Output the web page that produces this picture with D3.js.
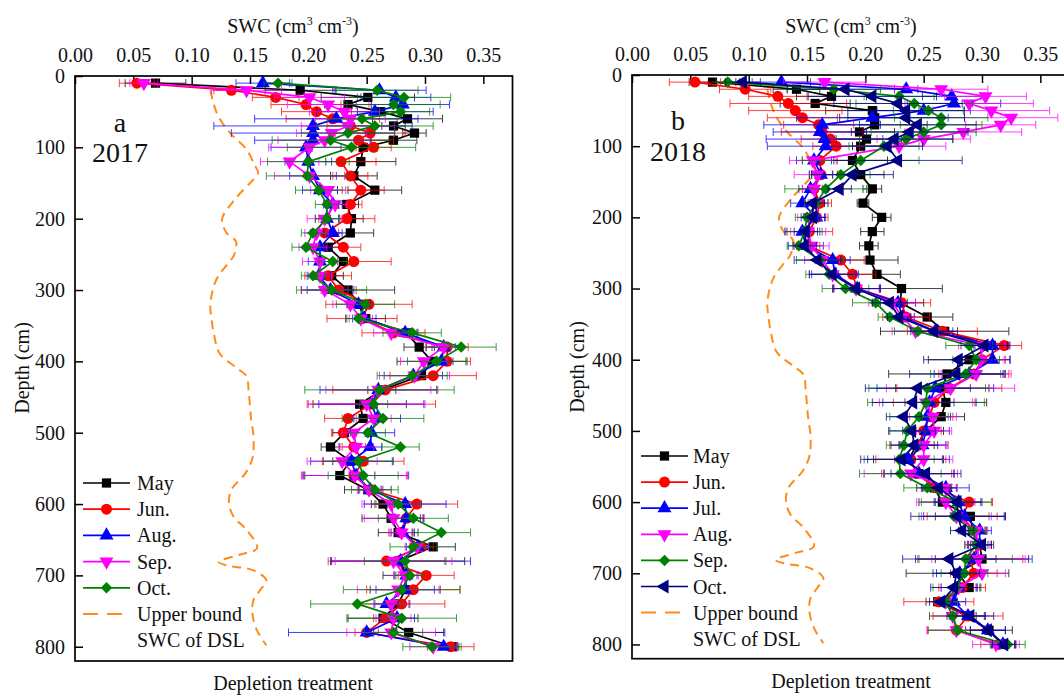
<!DOCTYPE html>
<html>
<head>
<meta charset="utf-8">
<script src="https://cdn.jsdelivr.net/npm/d3@7"></script>
<style>
  body { margin: 0; background: #fff; }
  svg { display: block; font-family: "Liberation Serif", "Times New Roman", "DejaVu Serif", serif; }
</style>
</head>
<body>
<script>
// Profondeurs (cm) : 10..100 par 10, puis 120..800 par 20
const depths = [10, 20, 30, 40, 50, 60, 70, 80, 90, 100,
  120, 140, 160, 180, 200, 220, 240,
  260, 280, 300, 320, 340, 360, 380,
  400, 420, 440, 460, 480, 500, 520,
  540, 560, 580, 600, 620, 640, 660,
  680, 700, 720, 740, 760, 780, 800];

const xTicks = [0, 0.05, 0.10, 0.15, 0.20, 0.25, 0.30, 0.35];
const yTicks = [0, 100, 200, 300, 400, 500, 600, 700, 800];

// ---- 2017 ----
const may17 = [.069, .193, .251, .234, .262, .285, .273, .291, .273, .247,
  .245, .239, .257, .233, .237, .236, .217,
  .230, .220, .234, .244, .249, .284, .295,
  .306, .297, .263, .244, .247, .231, .219,
  .236, .227, .251, .264, .271, .277, .307,
  .277, .284, .283, .277, .264, .286, .324];
const may17Err = [.026, .03, .04, .02, .02, .03, .01, .01, .02, .01,
  .03, .02, .023, .01, .01, .02, .01,
  .01, .01, .04, .01, .017, .01, .013,
  .03, .01, .012, .04, .01, .01, .008,
  .015, .03, .02, .01, .025, .017, .019,
  .057, .02, .03, .01, .03, .03, .005];
const jun17 = [.053, .134, .172, .198, .207, .221, .236, .253, .243, .256,
  .228, .236, .245, .236, .233, .214, .230,
  .239, .217, .226, .252, .246, .273, .319,
  .319, .307, .266, .254, .234, .230, .239,
  .247, .239, .254, .293, .284, .279, .297,
  .267, .301, .290, .280, .266, .250, .322];
const jun17Err = [.015, .015, .02, .03, .03, .04, .02, .03, .03, .015,
  .03, .015, .02, .01, .024, .012, .015,
  .032, .02, .015, .037, .03, .027, .018,
  .02, .037, .045, .055, .02, .01, .01,
  .035, .045, .01, .035, .015, .01, .01,
  .05, .024, .04, .037, .01, .01, .02];
const aug17 = [.161, .261, .275, .281, .257, .224, .204, .204, .204, .198,
  .200, .204, .210, .221, .216, .221, .210,
  .210, .209, .219, .243, .248, .283, .316,
  .314, .290, .260, .254, .259, .254, .253,
  .237, .241, .253, .283, .284, .281, .294,
  .279, .284, .283, .267, .276, .250, .316];
const aug17Err = [.023, .04, .03, .04, .05, .07, .085, .07, .05, .03,
  .02, .02, .015, .008, .01, .008, .01,
  .01, .01, .02, .01, .01, .01, .01,
  .01, .025, .05, .045, .02, .02, .01,
  .035, .045, .01, .035, .015, .01, .01,
  .06, .01, .025, .01, .015, .067, .01];
const sep17 = [.059, .147, .201, .217, .231, .236, .234, .220, .214, .201,
  .184, .201, .217, .223, .214, .207, .204,
  .210, .210, .214, .236, .245, .271, .316,
  .299, .291, .260, .250, .256, .239, .241,
  .229, .240, .252, .271, .273, .280, .293,
  .273, .283, .277, .271, .273, .271, .307];
const sep17Err = [.012, .03, .03, .035, .03, .03, .04, .03, .04, .035,
  .025, .03, .015, .01, .015, .01, .012,
  .015, .01, .02, .015, .01, .015, .015,
  .02, .03, .045, .05, .015, .01, .015,
  .03, .045, .01, .025, .025, .01, .01,
  .05, .01, .035, .015, .015, .038, .02];
const oct17 = [.174, .259, .282, .273, .279, .246, .257, .234, .219, .237,
  .200, .199, .209, .216, .216, .204, .198,
  .221, .204, .220, .249, .243, .289, .331,
  .310, .289, .261, .256, .264, .251, .279,
  .243, .247, .257, .277, .290, .314, .290,
  .283, .287, .280, .242, .280, .273, .306];
const oct17Err = [.012, .035, .04, .04, .025, .03, .05, .04, .05, .055,
  .035, .035, .02, .01, .01, .01, .012,
  .012, .01, .03, .025, .01, .025, .03,
  .025, .03, .064, .012, .035, .015, .016,
  .03, .03, .02, .02, .03, .025, .02,
  .035, .012, .05, .04, .047, .025, .025];

// ---- 2018 ----
const may18 = [.069, .141, .171, .157, .206, .208, .208, .195, .201, .196,
  .189, .196, .206, .198, .214, .206, .203,
  .204, .210, .231, .230, .253, .268, .308,
  .289, .270, .266, .269, .265, .252, .244,
  .237, .246, .259, .266, .290, .292, .298,
  .300, .279, .289, .262, .287, .306, .318];
const may18Err = [.02, .02, .03, .03, .04, .03, .045, .03, .03, .02,
  .03, .02, .008, .005, .008, .01, .008,
  .024, .02, .035, .02, .022, .055, .015,
  .035, .05, .04, .035, .02, .015, .015,
  .03, .03, .015, .02, .03, .012, .01,
  .04, .044, .01, .01, .015, .02, .01];
const jun18 = [.054, .097, .125, .134, .140, .146, .160, .163, .170, .175,
  .161, .162, .156, .161, .158, .152, .151,
  .179, .189, .193, .231, .235, .266, .319,
  .300, .293, .272, .259, .255, .250, .246,
  .239, .244, .260, .289, .283, .293, .298,
  .290, .293, .283, .263, .288, .278, .314];
const jun18Err = [.022, .022, .025, .05, .04, .03, .03, .035, .025, .02,
  .015, .01, .01, .01, .01, .02, .01,
  .02, .02, .02, .025, .02, .03, .015,
  .02, .03, .045, .035, .02, .015, .025,
  .03, .03, .01, .02, .03, .01, .01,
  .045, .02, .02, .03, .03, .025, .015];
const jul18 = [.128, .235, .274, .276, .250, .206, .163, .161, .165, .166,
  .156, .162, .153, .146, .158, .146, .149,
  .172, .174, .193, .228, .232, .260, .309,
  .309, .289, .260, .255, .253, .252, .249,
  .237, .246, .269, .280, .285, .298, .298,
  .293, .281, .280, .276, .288, .305, .318];
const jul18Err = [.025, .01, .025, .04, .04, .065, .05, .04, .05, .05,
  .015, .01, .01, .01, .008, .015, .015,
  .015, .02, .02, .015, .01, .015, .015,
  .015, .03, .05, .04, .02, .02, .02,
  .035, .03, .02, .02, .035, .01, .01,
  .05, .02, .015, .01, .015, .015, .01];
const aug18 = [.165, .265, .303, .289, .308, .325, .316, .284, .250, .229,
  .155, .159, .156, .158, .152, .151, .154,
  .163, .172, .192, .223, .232, .243, .300,
  .299, .295, .273, .252, .258, .259, .250,
  .250, .239, .269, .269, .278, .295, .296,
  .297, .300, .280, .269, .275, .278, .312];
const aug18Err = [.035, .04, .035, .055, .05, .04, .03, .05, .04, .04,
  .02, .02, .01, .01, .01, .015, .015,
  .015, .02, .02, .02, .01, .02, .02,
  .02, .03, .055, .04, .02, .015, .02,
  .025, .04, .01, .025, .03, .01, .01,
  .04, .02, .015, .01, .02, .025, .02];
const sep18 = [.082, .173, .229, .242, .254, .265, .265, .250, .235, .216,
  .196, .179, .166, .158, .150, .148, .143,
  .161, .169, .183, .209, .221, .245, .289,
  .295, .286, .253, .252, .246, .236, .233,
  .229, .230, .253, .278, .276, .292, .295,
  .286, .285, .278, .269, .275, .279, .322];
const sep18Err = [.01, .04, .03, .05, .03, .04, .035, .045, .04, .03,
  .05, .025, .035, .01, .01, .015, .01,
  .02, .02, .02, .02, .01, .02, .02,
  .02, .03, .05, .05, .025, .015, .015,
  .03, .035, .02, .03, .03, .01, .01,
  .04, .02, .02, .01, .02, .025, .015];
const oct18 = [.095, .183, .206, .228, .235, .235, .245, .238, .225, .219,
  .228, .189, .178, .155, .155, .149, .148,
  .159, .172, .192, .221, .229, .259, .302,
  .280, .278, .245, .241, .233, .240, .242,
  .231, .252, .263, .279, .279, .283, .300,
  .272, .278, .276, .265, .290, .305, .319];
const oct18Err = [.015, .05, .055, .055, .05, .05, .05, .05, .05, .03,
  .055, .035, .01, .01, .01, .01, .01,
  .02, .02, .02, .015, .01, .02, .02,
  .03, .04, .045, .035, .015, .02, .02,
  .035, .03, .015, .02, .04, .01, .01,
  .04, .02, .02, .01, .02, .015, .01];

// Limite supérieure SWC de la couche sèche (DSL)
const ubDepth = [20, 40, 57, 80, 103, 125, 136, 150, 173, 201, 220, 232, 252, 265, 286,
  319, 340, 361, 389, 412, 421, 445, 482, 506, 536, 557, 580, 599, 618, 636,
  662, 671, 681, 686, 693, 707, 720, 735, 753, 777, 798];
const ubSWC = [.116, .119, .123, .133, .147, .154, .157, .150, .137, .126, .130, .138, .136, .130, .121,
  .116, .117, .119, .124, .141, .147, .149, .151, .153, .152, .146, .134, .132, .136, .147,
  .156, .141, .123, .130, .153, .164, .159, .153, .152, .156, .164];

// Symboles (le losange = carré tourné de 45°)
const sym = {
  square: { type: d3.symbolSquare, size: 85, rot: 0 },
  circle: { type: d3.symbolCircle, size: 95, rot: 0 },
  up: { type: d3.symbolTriangle, size: 85, rot: 0 },
  down: { type: d3.symbolTriangle, size: 85, rot: 180 },
  left: { type: d3.symbolTriangle, size: 85, rot: -90 },
  diamond: { type: d3.symbolSquare, size: 66, rot: 45 }
};

const panels = [
  {
    x0: 75, x1: 512.5, y0: 76, y1: 661,
    tag: 'a', year: '2017', tagX: 120, tagY: 132, yearY: 162,
    titleX: 293, bottomY: 690, depthX: 29, depthY: 368,
    leg: { x0: 83, x1: 130, tx: 137, y: 483, dy: 26.2 },
    series: [
      { name: 'May', v: may17, e: may17Err, color: '#000000', s: 'square' },
      { name: 'Jun.', v: jun17, e: jun17Err, color: '#ff0000', s: 'circle' },
      { name: 'Aug.', v: aug17, e: aug17Err, color: '#0000ff', s: 'up' },
      { name: 'Sep.', v: sep17, e: sep17Err, color: '#ff00ff', s: 'down' },
      { name: 'Oct.', v: oct17, e: oct17Err, color: '#008000', s: 'diamond' }
    ]
  },
  {
    x0: 632, x1: 1069.5, y0: 75, y1: 658.7,
    tag: 'b', year: '2018', tagX: 678, tagY: 130, yearY: 161,
    titleX: 851, bottomY: 688, depthX: 584, depthY: 367,
    leg: { x0: 641, x1: 688, tx: 693, y: 456, dy: 26.1 },
    series: [
      { name: 'May', v: may18, e: may18Err, color: '#000000', s: 'square' },
      { name: 'Jun.', v: jun18, e: jun18Err, color: '#ff0000', s: 'circle' },
      { name: 'Jul.', v: jul18, e: jul18Err, color: '#0000ff', s: 'up' },
      { name: 'Aug.', v: aug18, e: aug18Err, color: '#ff00ff', s: 'down' },
      { name: 'Sep.', v: sep18, e: sep18Err, color: '#008000', s: 'diamond' },
      { name: 'Oct.', v: oct18, e: oct18Err, color: '#000080', s: 'left' }
    ]
  }
];

const svg = d3.select('body').append('svg')
  .attr('width', 1064).attr('height', 695);

function symPath(key) {
  return d3.symbol().type(sym[key].type).size(sym[key].size)();
}

function drawPanel(p) {
  const x = d3.scaleLinear().domain([0, 0.375]).range([p.x0, p.x1]);
  const y = d3.scaleLinear().domain([0, 820]).range([p.y0, p.y1]);
  const g = svg.append('g');

  // Axes
  const xa = g.append('g').attr('transform', `translate(0,${p.y0})`)
    .call(d3.axisTop(x).tickValues(xTicks).tickFormat(d3.format('.2f')).tickSize(-8).tickPadding(14));
  const ya = g.append('g').attr('transform', `translate(${p.x0},0)`)
    .call(d3.axisLeft(y).tickValues(yTicks).tickSize(-8).tickPadding(10));
  [xa, ya].forEach(a => {
    a.select('.domain').remove();
    a.selectAll('line').attr('stroke', '#000').attr('stroke-width', 1.5);
    a.selectAll('text').attr('font-size', 20).attr('fill', '#111')
      .attr('font-family', '"Liberation Serif", "Times New Roman", serif');
  });

  // Limite supérieure (tirets orange)
  const ubLine = d3.line().x(d => x(d[1])).y(d => y(d[0])).curve(d3.curveCatmullRom.alpha(0.5));
  g.append('path')
    .attr('d', ubLine(ubDepth.map((d, i) => [d, ubSWC[i]])))
    .attr('fill', 'none').attr('stroke', '#ff8c1a').attr('stroke-width', 2)
    .attr('stroke-dasharray', '9,6');

  // Séries
  p.series.forEach(s => {
    const pts = depths.map((d, i) => ({ d, v: s.v[i], e: s.e[i] }));
    const eg = g.append('g').attr('stroke', s.color).attr('stroke-width', 1).attr('opacity', 0.75);
    pts.forEach(pt => {
      const yy = y(pt.d), xl = x(pt.v - pt.e), xr = x(pt.v + pt.e);
      eg.append('line').attr('x1', xl).attr('x2', xr).attr('y1', yy).attr('y2', yy);
      eg.append('line').attr('x1', xl).attr('x2', xl).attr('y1', yy - 4).attr('y2', yy + 4);
      eg.append('line').attr('x1', xr).attr('x2', xr).attr('y1', yy - 4).attr('y2', yy + 4);
    });
    g.append('path')
      .attr('d', d3.line().x(d => x(d.v)).y(d => y(d.d))(pts))
      .attr('fill', 'none').attr('stroke', s.color).attr('stroke-width', 1.7);
    g.selectAll(null).data(pts).enter().append('path')
      .attr('d', symPath(s.s))
      .attr('transform', d => `translate(${x(d.v)},${y(d.d)}) rotate(${sym[s.s].rot})`)
      .attr('fill', s.color);
  });

  // Cadre
  g.append('rect')
    .attr('x', p.x0).attr('y', p.y0)
    .attr('width', p.x1 - p.x0).attr('height', p.y1 - p.y0)
    .attr('fill', 'none').attr('stroke', '#000').attr('stroke-width', 1.7);

  // Titres
  const title = g.append('text').attr('x', p.titleX).attr('y', 33)
    .attr('text-anchor', 'middle').attr('font-size', 20).attr('fill', '#111');
  title.append('tspan').text('SWC (cm');
  title.append('tspan').attr('dy', -8).attr('font-size', 12).text('3');
  title.append('tspan').attr('dy', 8).text(' cm');
  title.append('tspan').attr('dy', -8).attr('font-size', 12).text('-3');
  title.append('tspan').attr('dy', 8).text(')');

  g.append('text').attr('x', p.titleX).attr('y', p.bottomY)
    .attr('text-anchor', 'middle').attr('font-size', 20).attr('fill', '#111')
    .text('Depletion treatment');

  g.append('text')
    .attr('transform', `translate(${p.depthX},${p.depthY}) rotate(-90)`)
    .attr('text-anchor', 'middle').attr('font-size', 20).attr('fill', '#111')
    .text('Depth (cm)');

  g.append('text').attr('x', p.tagX).attr('y', p.tagY)
    .attr('text-anchor', 'middle').attr('font-size', 28).attr('fill', '#111').text(p.tag);
  g.append('text').attr('x', p.tagX).attr('y', p.yearY)
    .attr('text-anchor', 'middle').attr('font-size', 28).attr('fill', '#111').text(p.year);

  // Légende
  const L = p.leg;
  const xm = (L.x0 + L.x1) / 2;
  p.series.forEach((s, i) => {
    const yy = L.y + i * L.dy;
    g.append('line').attr('x1', L.x0).attr('x2', L.x1).attr('y1', yy).attr('y2', yy)
      .attr('stroke', s.color).attr('stroke-width', 1.7);
    g.append('path').attr('d', symPath(s.s))
      .attr('transform', `translate(${xm},${yy}) rotate(${sym[s.s].rot})`)
      .attr('fill', s.color);
    g.append('text').attr('x', L.tx).attr('y', yy + 7)
      .attr('font-size', 20).attr('fill', '#111').text(s.name);
  });
  const yb = L.y + p.series.length * L.dy;
  g.append('line').attr('x1', L.x0).attr('x2', L.x1).attr('y1', yb).attr('y2', yb)
    .attr('stroke', '#ff8c1a').attr('stroke-width', 2).attr('stroke-dasharray', '15,9');
  g.append('text').attr('x', L.tx).attr('y', yb + 7)
    .attr('font-size', 20).attr('fill', '#111').text('Upper bound');
  g.append('text').attr('x', L.tx).attr('y', yb + 7 + L.dy)
    .attr('font-size', 20).attr('fill', '#111').text('SWC of DSL');
}

panels.forEach(drawPanel);
</script>
</body>
</html>
